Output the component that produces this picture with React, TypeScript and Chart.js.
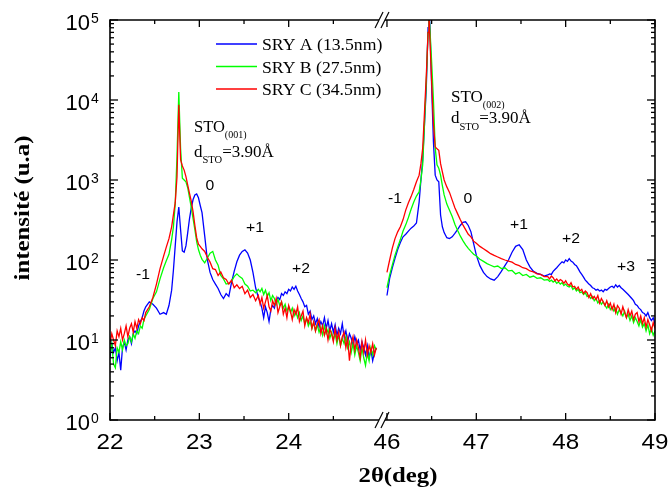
import React, { useEffect, useRef } from "react";
import { Chart, registerables } from "chart.js";

Chart.register(...registerables);

// ---------- data (2θ in degrees, intensity in u.a) ----------
const xLeft = [
  22.00, 22.02, 22.04, 22.06, 22.08, 22.10, 22.12, 22.14, 22.16, 22.18, 22.20,
  22.22, 22.24, 22.26, 22.28, 22.30, 22.32, 22.34, 22.36, 22.38, 22.40,
  22.44, 22.48, 22.52, 22.56, 22.60, 22.63, 22.66, 22.69, 22.71, 22.73,
  22.75, 22.77, 22.79, 22.81, 22.83, 22.85, 22.87, 22.89, 22.91, 22.93,
  22.95, 22.97, 22.99, 23.01, 23.03,
  23.06, 23.09, 23.12, 23.15, 23.18, 23.21, 23.24, 23.27, 23.30, 23.33,
  23.36, 23.39, 23.42, 23.45, 23.48, 23.51, 23.54, 23.57, 23.60, 23.63, 23.66,
  23.68, 23.70, 23.72, 23.74, 23.76, 23.78, 23.80, 23.82, 23.84, 23.86,
  23.88, 23.90, 23.92, 23.94, 23.96, 23.98, 24.00, 24.02, 24.04, 24.06,
  24.08, 24.10, 24.12, 24.14, 24.16, 24.18, 24.20, 24.22, 24.24, 24.26,
  24.28, 24.30, 24.32, 24.34, 24.36, 24.38, 24.40, 24.42, 24.44, 24.46,
  24.48, 24.50, 24.52, 24.54, 24.56, 24.58, 24.60, 24.62, 24.64, 24.66,
  24.68, 24.70, 24.72, 24.74, 24.76, 24.78, 24.80, 24.82, 24.84, 24.86,
  24.88, 24.90, 24.92, 24.94, 24.96, 24.98,
];
const xRight = [
  46.00, 46.03, 46.06, 46.09, 46.12, 46.15, 46.18, 46.21, 46.24, 46.27,
  46.30, 46.33, 46.36, 46.38, 46.40, 46.42, 46.44, 46.46, 46.47, 46.48,
  46.50, 46.52, 46.54, 46.56, 46.58, 46.60, 46.62, 46.64, 46.67, 46.70,
  46.73, 46.76, 46.79, 46.82, 46.85, 46.88, 46.91, 46.94, 46.97, 47.00,
  47.04, 47.08, 47.12, 47.16, 47.20, 47.24, 47.28, 47.32, 47.36, 47.40,
  47.44, 47.48, 47.52, 47.56, 47.60, 47.64, 47.68, 47.72, 47.76,
  47.80, 47.82, 47.84, 47.86, 47.88, 47.90, 47.92, 47.94, 47.96, 47.98,
  48.00, 48.02, 48.04, 48.06, 48.08, 48.10, 48.12, 48.14, 48.16, 48.18,
  48.20, 48.22, 48.24, 48.26, 48.28, 48.30, 48.32, 48.34, 48.36, 48.38,
  48.40, 48.42, 48.44, 48.46, 48.48, 48.50, 48.52, 48.54, 48.56, 48.58,
  48.60, 48.62, 48.64, 48.66, 48.68, 48.70, 48.72, 48.74, 48.76, 48.78,
  48.80, 48.82, 48.84, 48.86, 48.88, 48.90, 48.92, 48.94, 48.96, 48.98,
  49.00,
];

const sryA_left = [
  6, 9, 7, 8, 5.5, 7, 4.2, 8, 9.5, 7.5, 10,
  11, 9, 12, 13, 12, 15, 17, 19, 23, 26,
  30, 28, 25, 21, 22, 21, 27, 42, 75, 150,
  300, 460, 240, 130, 125, 150, 220, 330, 450, 570,
  650, 670, 600, 480, 390,
  200, 100, 70, 57, 50, 44, 37, 33, 38, 35,
  52, 72, 95, 115, 128, 134, 122, 100, 70, 45, 34,
  30, 25, 19, 26, 22, 17, 24, 27, 25, 31,
  34, 32, 38, 36, 40, 38, 43, 41, 46, 43,
  47, 41, 37, 33, 30, 26, 27, 21, 23, 18,
  20, 16, 18.5, 14.5, 17, 15, 19, 14, 17.5, 13,
  16, 12.5, 15.5, 11.5, 14, 12, 16, 11, 13, 9.5,
  12, 10.5, 8.5, 11, 9, 10, 7.5, 9.5, 8, 6.5,
  8.5, 6, 7.5, 5.5, 7, 8,
];
const sryB_left = [
  7, 9, 5, 4.5, 8, 7, 9.5, 7.5, 10, 8.5, 9,
  11, 9.5, 12, 10.5, 13, 12, 15, 14, 18, 20,
  24, 33, 40, 58, 80, 98, 118, 180, 260, 500,
  2000, 12600, 2500, 1050, 1000, 950, 800, 600, 450, 330,
  240, 170, 135, 115, 102,
  92, 106, 122, 128, 100, 86, 64, 58, 50, 51,
  54, 62, 67, 62, 59, 50, 47, 41, 42, 39, 43,
  40, 44, 37, 42, 35, 39, 31, 36, 33, 28,
  32, 27, 30, 25, 28, 23, 26, 22, 25, 20,
  23, 19, 22, 17.5, 20, 16, 18.5, 15, 17, 14,
  16.5, 13, 15.5, 12.5, 14.5, 11.5, 15, 12, 13.5, 10.5,
  12.5, 10, 12, 9, 11.5, 8.5, 10.5, 9, 11, 8,
  9.5, 7, 9, 6.5, 8.5, 7, 5.5, 8, 6, 4.8,
  7, 5.5, 8, 6.5, 8.5, 7.5,
];
const sryC_left = [
  9, 12, 10, 8.5, 13, 11, 14, 10, 12, 15, 11,
  14, 16, 12.5, 17, 14, 18, 16, 19, 17.5, 22,
  26, 34, 50, 78, 112, 145, 185, 260, 370, 520,
  1100, 8700, 1800, 1500, 1330, 1100, 860, 680, 540, 400,
  270, 190, 158, 148, 138,
  128, 108, 94, 78, 76, 64, 71, 60, 57, 50,
  56, 45, 49, 44, 47, 38, 42, 34, 37, 31, 36,
  28, 34, 25, 30, 36, 26, 23, 31, 27, 33,
  22, 26, 30, 21, 25, 19, 27, 23, 18, 24,
  21, 26, 17, 20, 23, 15, 19, 16.5, 21, 14,
  17, 13, 16, 18, 12, 15, 11.5, 14, 10, 13.5,
  12, 9.5, 14, 10, 12.5, 8.5, 11, 12.5, 8, 10.5,
  5.5, 9, 11, 7.5, 10, 8, 6, 9.5, 7, 10,
  6.5, 8.5, 7, 9, 6.5, 8,
];

const sryA_right = [
  36, 59, 80, 105, 135, 165, 195, 210, 230, 250,
  265, 290, 530, 1000, 1800, 5000, 14000, 80000, 130000, 90000,
  15000, 3000, 1150, 1000, 950, 365, 260, 220, 190, 185,
  195, 215, 240, 270, 295, 300, 270, 225, 160, 115,
  85, 70, 62, 58, 56, 62, 72, 85, 100, 125,
  148, 155, 135, 100, 82, 72, 68, 66, 63,
  65, 67, 66, 72, 76, 80, 85, 90, 95, 92,
  100, 96, 104, 97, 94, 88, 85, 78, 71, 66,
  61, 56, 53, 50, 48, 45, 44, 42, 43, 41,
  42, 40, 43, 42, 44, 46, 47, 45, 49, 46,
  48, 45, 43, 41, 39, 37, 35, 33, 31, 28,
  27, 25, 24, 22, 21.5, 20, 22, 19, 17.5, 19,
  16,
];
const sryB_right = [
  45, 65, 87, 115, 145, 180, 230, 275, 340, 430,
  530, 630, 710, 1000, 1550, 5000, 17000, 70000, 120000, 80000,
  30000, 10000, 2500, 1550, 1400, 1150, 850, 650, 500, 420,
  350, 280, 235, 200, 175, 155, 140, 128, 118, 112,
  102, 96, 90, 86, 82, 84, 78, 80, 73, 74,
  67, 70, 64, 66, 61, 63, 59, 60, 56,
  57, 54, 56, 53, 55, 51, 53, 50, 52, 48,
  50, 47, 46, 48, 43, 45, 41, 43, 39, 40,
  37, 39, 35, 36, 33, 35, 31, 33, 29, 31,
  28, 30, 27, 25, 28, 24, 26, 23, 25, 21,
  24, 22, 20, 23, 19, 21, 17.5, 20, 16.5, 19,
  17, 15, 18, 14.5, 16, 13, 15.5, 12, 14, 11.5,
  13,
];
const sryC_right = [
  70, 100, 141, 185, 225, 260, 320, 420, 520, 620,
  760, 950, 1150, 1600, 2500, 7000, 20000, 70000, 120000, 60000,
  17000, 5000, 2600, 2450, 2350, 1600, 1260, 1000, 820, 700,
  560, 450, 380, 320, 275, 240, 210, 195, 172, 162,
  148, 138, 129, 120, 114, 109, 104, 100, 97, 94,
  88, 85, 80, 78, 73, 71, 67, 66, 62,
  62, 58, 63, 60, 55, 58, 54, 57, 55, 51,
  55, 50, 48, 52, 46, 47, 43, 46, 41, 43,
  38, 41, 39, 34, 38, 33, 35, 32, 36, 29,
  33, 30, 27, 31, 26, 29, 24, 28, 22, 27,
  25, 21, 26, 22, 19, 24, 20, 23, 18, 21,
  22, 17, 20, 16, 19, 14.5, 18, 15.5, 13, 16.5,
  14,
];

const seriesLabels = ["SRY A (13.5nm)", "SRY B (27.5nm)", "SRY C (34.5nm)"];
const seriesColors = ["#0000ff", "#00ff00", "#ff0000"];
const xMajorTicks = [22, 23, 24, 46, 47, 48, 49];
const xMinorTicks = [22.5, 23.5, 24.5, 46.5, 47.5, 48.5];
const yExponents = [0, 1, 2, 3, 4, 5];
const peakOrders = [
  { text: "-1", px: 143, py: 275 },
  { text: "0", px: 210, py: 186 },
  { text: "+1", px: 255, py: 228 },
  { text: "+2", px: 301, py: 269 },
  { text: "-1", px: 395, py: 199 },
  { text: "0", px: 468, py: 199 },
  { text: "+1", px: 519, py: 225 },
  { text: "+2", px: 571, py: 239 },
  { text: "+3", px: 626, py: 267 },
];

// broken axis: 22–25 then 46–49
const BREAK_GAP = 0.1;
const toAxis = (x: number) => (x < 35 ? x - 22 : x - 46 + 3 + BREAK_GAP);
const AXIS_MAX = toAxis(49);

const SANS = '"Liberation Sans", Arial, sans-serif';
const SERIF = '"Liberation Serif", "Times New Roman", serif';

function txt(ctx: CanvasRenderingContext2D, s: string, x: number, y: number, font: string, align: CanvasTextAlign = "left", sx = 1, baseline: CanvasTextBaseline = "alphabetic") {
  ctx.save();
  ctx.font = font;
  ctx.textAlign = align;
  ctx.textBaseline = baseline;
  ctx.translate(x, y);
  ctx.scale(sx, 1);
  ctx.fillText(s, 0, 0);
  ctx.restore();
}

function richText(ctx: CanvasRenderingContext2D, parts: [string, boolean][], x: number, y: number, size: number, subSize: number, subDrop: number) {
  let cx = x;
  for (const [s, sub] of parts) {
    ctx.font = `${sub ? subSize : size}px ${SERIF}`;
    ctx.textAlign = "left";
    ctx.textBaseline = "alphabetic";
    ctx.fillText(s, cx, sub ? y + subDrop : y);
    cx += ctx.measureText(s).width;
  }
  return cx;
}

const decorPlugin = {
  id: "decor",
  afterDraw(chart: any) {
    const { ctx, chartArea: a, scales } = chart;
    const xs = scales.x;
    const ys = scales.y;
    ctx.save();
    ctx.strokeStyle = "#000";
    ctx.fillStyle = "#000";
    const seg = (x1: number, y1: number, x2: number, y2: number) => {
      ctx.beginPath();
      ctx.moveTo(x1, y1);
      ctx.lineTo(x2, y2);
      ctx.stroke();
    };
    ctx.lineWidth = 1.6;
    const bL = xs.getPixelForValue(toAxis(25)) + 1;
    const bR = xs.getPixelForValue(toAxis(46)) - 2;
    seg(a.left, a.top - 0.8, a.left, a.bottom + 0.8);
    seg(a.right, a.top - 0.8, a.right, a.bottom + 0.8);
    for (const y of [a.top, a.bottom]) {
      ctx.lineWidth = 1.6;
      seg(a.left, y, bL, y);
      seg(bR, y, a.right, y);
      ctx.lineWidth = 1.2;
      seg(bL - 4, y + 8, bL + 4, y - 8);
      seg(bR - 4, y + 8, bR + 4, y - 8);
    }
    ctx.lineWidth = 1.3;
    for (const v of xMajorTicks) {
      const px = xs.getPixelForValue(toAxis(v));
      seg(px, a.bottom, px, a.bottom - 7);
      seg(px, a.top, px, a.top + 7);
    }
    for (const v of xMinorTicks) {
      const px = xs.getPixelForValue(toAxis(v));
      seg(px, a.bottom, px, a.bottom - 4);
      seg(px, a.top, px, a.top + 4);
    }
    for (const e of yExponents) {
      const py = ys.getPixelForValue(Math.pow(10, e));
      seg(a.left, py, a.left + 8, py);
      seg(a.right, py, a.right - 8, py);
      if (e < 5) {
        for (let m = 2; m <= 9; m++) {
          const pm = ys.getPixelForValue(m * Math.pow(10, e));
          seg(a.left, pm, a.left + 4, pm);
          seg(a.right, pm, a.right - 4, pm);
        }
      }
    }
    for (const v of xMajorTicks) {
      const px = xs.getPixelForValue(toAxis(v));
      txt(ctx, String(v), px, a.bottom + 29, `22px ${SANS}`, "center", 1.1);
    }
    for (const e of yExponents) {
      const py = ys.getPixelForValue(Math.pow(10, e));
      txt(ctx, "10", a.left - 20, py + 10, `22px ${SANS}`, "right", 1);
      txt(ctx, String(e), a.left - 19, py + 3, `14px ${SANS}`, "left", 1);
    }
    ctx.save();
    ctx.font = `bold 22px ${SERIF}`;
    const yt = "intensité (u.a)";
    const ytw = ctx.measureText(yt).width;
    ctx.translate(29, 208);
    ctx.rotate(-Math.PI / 2);
    ctx.scale(145 / ytw, 1);
    ctx.textAlign = "center";
    ctx.textBaseline = "alphabetic";
    ctx.fillText(yt, 0, 0);
    ctx.restore();
    ctx.save();
    ctx.font = `bold 22px ${SERIF}`;
    const xt = "2θ(deg)";
    const xtw = ctx.measureText(xt).width;
    ctx.translate(398, 482);
    ctx.scale(79 / xtw, 1);
    ctx.textAlign = "center";
    ctx.fillText(xt, 0, 0);
    ctx.restore();

    const legY = [44, 66.5, 89];
    for (let i = 0; i < 3; i++) {
      ctx.strokeStyle = seriesColors[i];
      ctx.lineWidth = 1.6;
      seg(216, legY[i], 257, legY[i]);
      ctx.fillStyle = "#000";
      txt(ctx, seriesLabels[i], 262, legY[i] + 6, `17px ${SERIF}`, "left", 1.04);
    }
    ctx.fillStyle = "#000";
    richText(ctx, [["STO", false], ["(001)", true]], 194, 132, 16.5, 10, 6);
    richText(ctx, [["d", false], ["STO", true], ["=3.90Å", false]], 194, 157, 17, 10.5, 6);
    richText(ctx, [["STO", false], ["(002)", true]], 451, 102, 17, 10, 6);
    richText(ctx, [["d", false], ["STO", true], ["=3.90Å", false]], 451, 123, 17, 10.5, 7);
    for (const o of peakOrders) {
      txt(ctx, o.text, o.px, o.py, `15px ${SANS}`, "center", 1.05, "middle");
    }
    ctx.restore();
  },
};

function pts(xs: number[], ys: number[]) {
  return xs.map((x, i) => ({ x: toAxis(x), y: ys[i] }));
}

export default function App() {
  const ref = useRef<HTMLCanvasElement | null>(null);
  useEffect(() => {
    if (!ref.current) return;
    const series = [
      [sryA_left, sryA_right],
      [sryB_left, sryB_right],
      [sryC_left, sryC_right],
    ];
    const datasets: any[] = [];
    series.forEach((s, i) => {
      [xLeft, xRight].forEach((xv, k) => {
        datasets.push({
          label: seriesLabels[i] + (k ? " " : ""),
          data: pts(xv, s[k]),
          borderColor: seriesColors[i],
          borderWidth: 1.3,
          pointRadius: 0,
          tension: 0,
          fill: false,
          order: 3 - i,
        });
      });
    });
    const chart = new Chart(ref.current, {
      type: "line",
      data: { datasets },
      options: {
        animation: false,
        responsive: false,
        maintainAspectRatio: false,
        devicePixelRatio: 1,
        layout: { padding: { left: 110, right: 14, top: 20, bottom: 70 } },
        plugins: { legend: { display: false }, tooltip: { enabled: false } },
        scales: {
          x: { type: "linear", min: 0, max: AXIS_MAX, display: false },
          y: { type: "logarithmic", min: 1, max: 100000, display: false },
        },
      },
      plugins: [decorPlugin],
    });
    return () => chart.destroy();
  }, []);
  return (
    <div style={{ position: "fixed", left: 0, top: 0, width: 669, height: 490, background: "#fff" }}>
      <canvas ref={ref} width={669} height={490} style={{ width: 669, height: 490 }} />
    </div>
  );
}
